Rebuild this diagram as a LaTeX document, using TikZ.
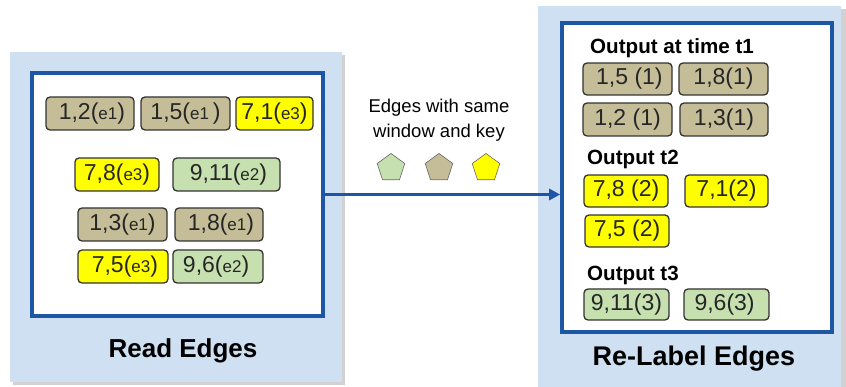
\documentclass[tikz,border=0pt]{standalone}
\usepackage{fontspec}
\setmainfont{Liberation Sans}
\usetikzlibrary{shapes.geometric,arrows.meta}
\definecolor{panelbg}{HTML}{CFE0F2}
\definecolor{frameblue}{HTML}{1E56A6}
\definecolor{tanfill}{HTML}{C4BD97}
\definecolor{greenfill}{HTML}{C6E0B0}
\definecolor{yelfill}{HTML}{FFFF00}
\newcommand\ek[1]{{\fontsize{17}{17}\selectfont #1}}
\tikzset{
  panel/.style={fill=panelbg, draw=none},
  shade/.style={fill=black!35, draw=none, opacity=0.5},
  window/.style={fill=white, draw=frameblue, line width=3.6pt},
  edgebox/.style={draw=black!80, line width=1.3pt, rounded corners=4pt,
    inner sep=0pt, font=\fontsize{23}{23}\selectfont, text=black!85},
  tan/.style={edgebox, fill=tanfill},
  grn/.style={edgebox, fill=greenfill},
  yel/.style={edgebox, fill=yelfill},
  heading/.style={font=\bfseries\fontsize{20.6}{20.6}\selectfont, anchor=west, inner sep=0pt},
  title/.style={font=\bfseries\fontsize{26}{26}\selectfont, inner sep=0pt},
  penta/.style={regular polygon, regular polygon sides=5, minimum size=29pt,
    inner sep=0pt, draw=black!60, line width=0.6pt},
}
\begin{document}
\begin{tikzpicture}[x=1pt,y=-1pt]
\useasboundingbox (0,0) rectangle (846,387);

% left panel: reading edges
\fill[shade] (13,55) rectangle (345,385);
\node[panel, minimum width=332pt, minimum height=330pt, inner sep=0pt] (lpanel) at (176,217) {};
\node[window, minimum width=291pt, minimum height=243pt, inner sep=0pt] (lwin) at (177.5,194.5) {};
\node[title] (ltitle) at (183,351) {Read Edges};

\node[tan, minimum width=88pt, minimum height=33pt] (r12) at (90,113.5) {\,1,2(\ek{e1})};
\node[tan, minimum width=89pt, minimum height=33pt] (r15) at (185.5,113.5) {1,5(\ek{e1}\,)};
\node[yel, minimum width=77pt, minimum height=33pt] (r71) at (274.5,113.5) {7,1(\ek{e3})};
\node[yel, minimum width=84pt, minimum height=33pt] (r78) at (117,174.5) {7,8(\ek{e3})};
\node[grn, minimum width=107pt, minimum height=33pt] (r911) at (226.5,174.5) {\,9,11(\ek{e2})};
\node[tan, minimum width=89pt, minimum height=33pt] (r13) at (122.5,224.5) {1,3(\ek{e1})};
\node[tan, minimum width=88pt, minimum height=33pt] (r18) at (219,224.5) {\,1,8(\ek{e1})};
\node[yel, minimum width=90pt, minimum height=33pt] (r75) at (123,266.5) {\,7,5(\ek{e3})};
\node[grn, minimum width=90pt, minimum height=33pt] (r96) at (218,266.5) {9,6(\ek{e2})\,};

% right panel: relabelled edges
\fill[shade] (540,9) rectangle (846,387);
\node[panel, minimum width=303pt, minimum height=381pt, inner sep=0pt] (rpanel) at (689,196.5) {};
\node[window, minimum width=270pt, minimum height=309pt, inner sep=0pt] (rwin) at (697,177.5) {};
\node[title, font=\bfseries\fontsize{27}{27}\selectfont] (rtitle) at (694,359) {Re-Label Edges};

\node[heading] (h1) at (590,48) {Output at time t1};
\node[tan, minimum width=89pt, minimum height=32pt] (o15) at (627.5,79) {\,1,5 (1)};
\node[tan, minimum width=89pt, minimum height=32pt] (o18) at (723.5,79) {1,8(1)};
\node[tan, minimum width=89pt, minimum height=33pt] (o12) at (627.5,119.5) {1,2 (1)};
\node[tan, minimum width=88pt, minimum height=33pt] (o13) at (724,119.5) {1,3(1)};

\node[heading] (h2) at (587,159) {Output t2};
\node[yel, minimum width=84pt, minimum height=32pt] (o78) at (626,191) {7,8 (2)};
\node[yel, minimum width=83pt, minimum height=32pt] (o71) at (726.5,191) {7,1(2)};
\node[yel, minimum width=84pt, minimum height=32pt] (o75) at (627,231) {7,5 (2)};

\node[heading] (h3) at (587,275) {Output t3};
\node[grn, minimum width=85pt, minimum height=31pt] (o911) at (626.5,304.5) {9,11(3)};
\node[grn, minimum width=85pt, minimum height=31pt] (o96) at (726.5,304.5) {9,6(3)\,};

% connector between the two stages
\draw[frameblue, line width=3.4pt, -{Triangle[length=11pt,width=11pt]}]
  (lwin.east) -- (lwin.east -| rwin.west);

\node[align=center, font=\fontsize{18.5}{25}\selectfont, inner sep=0pt] (note) at (439,120)
  {Edges with same\\window and key};
\node[penta, fill=greenfill] (pg) at (391,168) {};
\node[penta, fill=tanfill] (pt) at (439,168) {};
\node[penta, fill=yelfill] (py) at (486,168) {};
\end{tikzpicture}
\end{document}
